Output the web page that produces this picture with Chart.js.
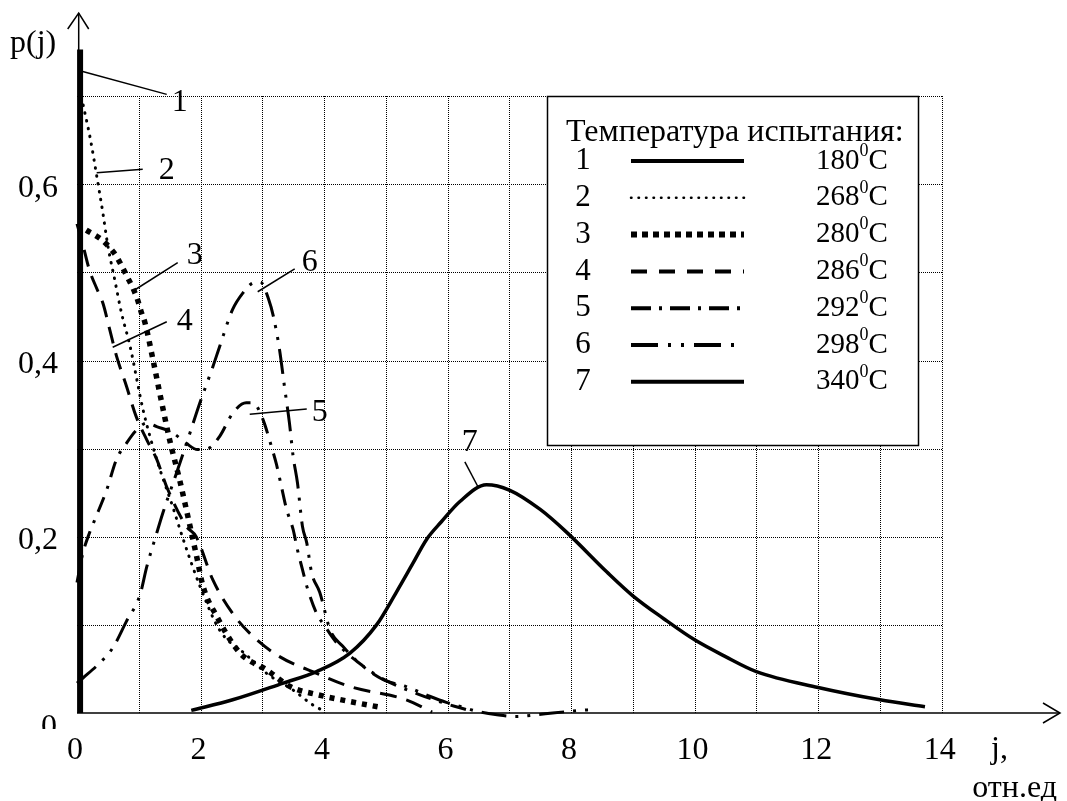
<!DOCTYPE html>
<html>
<head>
<meta charset="utf-8">
<script src="https://cdn.jsdelivr.net/npm/chart.js@4.4.1/dist/chart.umd.min.js"></script>
<style>
html,body{margin:0;padding:0;background:#fff;}
#wrap{width:1067px;height:801px;}
</style>
</head>
<body>
<div id="wrap"><canvas id="c" width="1067" height="801"></canvas></div>
<script>
// ---------- data ----------
const curveNames = ['1','2','3','4','5','6','7'];
const temperatures = ['180','268','280','286','292','298','340'];
const legendTitle = 'Температура испытания:';
const yTitle = 'p(j)';
const xTitleTop = 'j,';
const xTitleBottom = 'отн.ед';

const xTicks = [0,2,4,6,8,10,12,14];
const xTickLabels = ['0','2','4','6','8','10','12','14'];
const yTicks = [0,0.2,0.4,0.6];
const yTickLabels = ['0','0,2','0,4','0,6'];

// curve 1 (180 C)
const j1 = [0.05, 0.05];
const p1 = [0, 0.753];
// curve 2 (268 C)
const j2 = [0.1,0.22,0.33,0.42,0.5,0.61,0.72,0.86,1.07,1.29,1.55,1.72,1.99,2.31,2.74,3.07,3.5,3.8,4.0];
const p2 = [0.69,0.65,0.605,0.567,0.53,0.492,0.454,0.416,0.344,0.288,0.234,0.197,0.144,0.094,0.066,0.045,0.026,0.01,0.002];
// curve 3 (280 C)
const j3 = [0.15,0.4,0.53,0.64,0.74,0.82,0.9,0.98,1.04,1.1,1.23,1.34,1.5,1.66,1.83,1.93,2.04,2.26,2.64,3.07,3.45,3.88,4.42,4.95];
const p3 = [0.548,0.537,0.528,0.518,0.505,0.494,0.483,0.469,0.455,0.443,0.401,0.363,0.31,0.265,0.212,0.18,0.144,0.11,0.068,0.049,0.03,0.021,0.013,0.006];
// curve 4 (286 C)
const j4 = [0,0.1,0.2,0.33,0.42,0.53,0.64,0.8,0.96,1.13,1.29,1.45,1.77,1.93,2.2,2.52,2.85,3.28,3.88,4.42,5.33,5.75];
const p4 = [0.555,0.53,0.503,0.48,0.465,0.435,0.405,0.371,0.336,0.31,0.288,0.257,0.212,0.2,0.151,0.113,0.087,0.064,0.045,0.03,0.015,0.001];
// curve 5 (292 C)
const j5 = [0,0.09,0.2,0.31,0.48,0.64,0.8,0.95,1.13,1.29,1.55,1.77,1.95,2.12,2.31,2.52,2.74,2.85,3.0,3.15,3.23,3.31,3.39,3.5,3.57,3.65,3.72,3.88,4.0,4.2,4.6,5.0,5.5,6.0,6.3];
const p5 = [0.148,0.18,0.204,0.223,0.253,0.288,0.306,0.32,0.329,0.325,0.318,0.306,0.299,0.3,0.314,0.34,0.352,0.352,0.335,0.302,0.282,0.257,0.232,0.208,0.185,0.163,0.144,0.113,0.1,0.08,0.055,0.037,0.022,0.01,0.004];
// curve 6 (298 C)
const j6 = [0,0.1,0.37,0.58,0.8,1.02,1.13,1.29,1.39,1.61,1.83,1.99,2.2,2.31,2.52,2.69,2.85,2.97,3.1,3.18,3.28,3.36,3.44,3.5,3.57,3.65,3.72,3.8,3.93,4.1,4.3,4.58,4.95,5.33,5.71,5.98,6.23,6.47,6.8,7.1,7.44,7.7,8.0,8.35];
const p6 = [0.034,0.04,0.057,0.074,0.104,0.134,0.166,0.204,0.227,0.272,0.318,0.352,0.393,0.416,0.458,0.477,0.488,0.489,0.47,0.45,0.412,0.37,0.329,0.291,0.261,0.212,0.193,0.159,0.137,0.094,0.076,0.056,0.038,0.03,0.019,0.012,0.007,0.002,-0.002,-0.004,-0.002,0,0.002,0.004];
// curve 7 (340 C)
const j7 = [1.85,2.52,3.34,3.88,4.42,4.85,5.17,5.44,5.66,5.9,6.2,6.63,7.0,7.5,7.93,8.58,9.0,9.5,10.0,10.5,11.0,12.0,13.0,13.73];
const p7 = [0.003,0.015,0.034,0.047,0.068,0.1,0.137,0.17,0.197,0.217,0.24,0.259,0.253,0.231,0.205,0.16,0.133,0.107,0.083,0.064,0.047,0.029,0.015,0.007];

// ---------- styles ----------
const styles = [
  {w:6,   dash:[],               cap:'butt',  lw:4,   ldash:[]},
  {w:3,   dash:[0.5,7.5],        cap:'round', lw:2.5, ldash:[0.5,7]},
  {w:5.5, dash:[5,6],            cap:'butt',  lw:6,   ldash:[6,5]},
  {w:3,   dash:[17,10],          cap:'butt',  lw:4,   ldash:[16,12]},
  {w:3,   dash:[16,9,3,9],       cap:'butt',  lw:4,   ldash:[20,8,3,8]},
  {w:3,   dash:[25,9,3,9,3,9],   cap:'butt',  lw:4,   ldash:[27,10,3,10,3,10]},
  {w:3.5, dash:[],               cap:'butt',  lw:4,   ldash:[]}
];

const xs = [j1,j2,j3,j4,j5,j6,j7];
const ys = [p1,p2,p3,p4,p5,p6,p7];

const datasets = xs.map((xa,i)=>({
  label: curveNames[i],
  data: xa.map((x,k)=>({x:x, y:ys[i][k]})),
  borderColor:'#000',
  backgroundColor:'#000',
  borderWidth: styles[i].w,
  borderDash: styles[i].dash,
  borderCapStyle: styles[i].cap,
  borderJoinStyle:'round',
  pointRadius:0,
  fill:false,
  showLine:true,
  tension: i===0 ? 0 : 0.4,
  cubicInterpolationMode: i===0 ? 'default' : 'monotone',
  clip:false
}));

// callouts: [label, fromX, fromY, toX, toY, textX, textY] in data units
const callouts = [
  ['1', 0.092,0.728, 1.453,0.702, 1.663,0.693],
  ['2', 0.319,0.613, 1.064,0.617, 1.453,0.615],
  ['3', 0.934,0.48,  1.631,0.511, 1.906,0.519],
  ['4', 0.578,0.415, 1.453,0.444, 1.744,0.444],
  ['5', 2.797,0.339, 3.72,0.345,  3.93,0.341],
  ['6', 2.926,0.478, 3.525,0.504, 3.768,0.511],
  ['7', 6.49,0.257,  6.28,0.285,  6.36,0.307]
];

const FONT = '"Liberation Serif", "Times New Roman", serif';

const decor = {
  id:'decor',
  beforeDatasetsDraw(chart){
    const ctx = chart.ctx, X = chart.scales.x, Y = chart.scales.y;
    ctx.save();
    ctx.strokeStyle = '#000';
    ctx.lineWidth = 1;
    ctx.setLineDash([1,1]);
    const y0 = Y.getPixelForValue(0), y7 = Y.getPixelForValue(0.7);
    const x0 = X.getPixelForValue(0), x14 = X.getPixelForValue(14);
    for (let v=1; v<=14; v++){
      const px = Math.round(X.getPixelForValue(v))+0.5;
      ctx.beginPath(); ctx.moveTo(px, Math.round(y0)); ctx.lineTo(px, Math.round(y7)); ctx.stroke();
    }
    for (let k=1; k<=7; k++){
      const py = Math.round(Y.getPixelForValue(k/10))+0.5;
      ctx.beginPath(); ctx.moveTo(Math.round(x0), py); ctx.lineTo(Math.round(x14), py); ctx.stroke();
    }
    ctx.restore();
  },
  afterDatasetsDraw(chart){
    const ctx = chart.ctx, X = chart.scales.x, Y = chart.scales.y;
    ctx.save();
    ctx.setLineDash([]);
    ctx.strokeStyle = '#000';
    ctx.fillStyle = '#000';
    // axes
    const ax = X.getPixelForValue(0) + 1.7;
    const ay = Y.getPixelForValue(0);
    ctx.lineWidth = 1.5;
    ctx.beginPath(); ctx.moveTo(ax, ay); ctx.lineTo(ax, 13); ctx.stroke();
    ctx.beginPath(); ctx.moveTo(ax-11, 29); ctx.lineTo(ax, 13); ctx.lineTo(ax+10, 29); ctx.stroke();
    ctx.beginPath(); ctx.moveTo(X.getPixelForValue(0), ay); ctx.lineTo(1060, ay); ctx.stroke();
    ctx.beginPath(); ctx.moveTo(1043, ay-10); ctx.lineTo(1060, ay); ctx.lineTo(1043, ay+10); ctx.stroke();

    // tick labels
    ctx.font = '32px ' + FONT;
    ctx.textAlign = 'center'; ctx.textBaseline = 'middle';
    xTicks.forEach((v,i)=>{
      ctx.fillText(xTickLabels[i], X.getPixelForValue(v) - 2, 751);
    });
    ctx.textAlign = 'right';
    yTicks.forEach((v,i)=>{
      const py = Y.getPixelForValue(v) + 4;
      if (v === 0){
        ctx.save();
        ctx.beginPath(); ctx.rect(0, 700, 70, 29); ctx.clip();
        ctx.fillText(yTickLabels[i], 57, py + 11);
        ctx.restore();
      } else {
        ctx.fillText(yTickLabels[i], 58, py);
      }
    });
    // axis titles
    ctx.textAlign = 'left';
    ctx.fillText(yTitle, 10, 44);
    ctx.fillText(xTitleTop, 991, 750);
    ctx.textAlign = 'right';
    ctx.fillText(xTitleBottom, 1057, 789);

    // callouts
    ctx.lineWidth = 1.5;
    ctx.textAlign = 'center';
    callouts.forEach(c=>{
      ctx.beginPath();
      ctx.moveTo(X.getPixelForValue(c[1]), Y.getPixelForValue(c[2]));
      ctx.lineTo(X.getPixelForValue(c[3]), Y.getPixelForValue(c[4]));
      ctx.stroke();
      ctx.fillText(c[0], X.getPixelForValue(c[5]), Y.getPixelForValue(c[6]));
    });

    // legend box
    const L = 547, T = 96, R = 918, B = 445;
    ctx.fillStyle = '#fff';
    ctx.fillRect(L, T, R-L, B-T);
    ctx.strokeStyle = '#000';
    ctx.lineWidth = 1.5;
    ctx.strokeRect(L+0.5, T+0.5, R-L, B-T);
    ctx.fillStyle = '#000';
    ctx.textAlign = 'left'; ctx.textBaseline = 'middle';
    ctx.font = '32px ' + FONT;
    ctx.fillText(legendTitle, 566, 133);
    chart.data.datasets.forEach((ds,i)=>{
      const ry = 161 + i*36.8;
      ctx.font = '31px ' + FONT;
      ctx.textAlign = 'center';
      ctx.fillText(curveNames[i], 583, ry);
      ctx.textAlign = 'left';
      let tx = 816;
      ctx.font = '29px ' + FONT;
      ctx.fillText(temperatures[i], tx, ry);
      tx += ctx.measureText(temperatures[i]).width;
      ctx.font = '18px ' + FONT;
      ctx.fillText('0', tx, ry - 10);
      tx += ctx.measureText('0').width;
      ctx.font = '29px ' + FONT;
      ctx.fillText('C', tx, ry);
      // sample line
      const st = styles[i];
      ctx.save();
      ctx.lineWidth = st.lw;
      ctx.setLineDash(st.ldash);
      ctx.lineCap = st.cap;
      ctx.beginPath(); ctx.moveTo(631, ry); ctx.lineTo(744, ry); ctx.stroke();
      ctx.restore();
    });
    ctx.restore();
  }
};

new Chart(document.getElementById('c'), {
  type:'scatter',
  data:{datasets},
  options:{
    responsive:false,
    animation:false,
    devicePixelRatio:1,
    layout:{padding:{left:77, top:8, right:8, bottom:88}},
    plugins:{legend:{display:false}, tooltip:{enabled:false}},
    scales:{
      x:{type:'linear', min:0, max:15.9, display:false},
      y:{type:'linear', min:0, max:0.8, display:false}
    }
  },
  plugins:[decor]
});
</script>
</body>
</html>
